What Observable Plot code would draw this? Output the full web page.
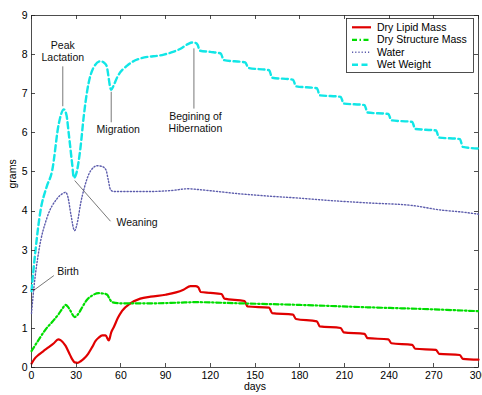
<!DOCTYPE html>
<html>
<head>
<meta charset="utf-8">
<script src="https://cdn.jsdelivr.net/npm/d3@7"></script>
<script src="https://cdn.jsdelivr.net/npm/@observablehq/plot@0.6"></script>
<style>
  html, body { margin: 0; padding: 0; background: #fff; }
  #wrap { position: relative; width: 482px; height: 395px; overflow: hidden; }
  #overlay { position: absolute; left: 0; top: 0; }
</style>
</head>
<body>
<div id="wrap"></div>
<script>
// ---- data: [day, grams] ----
const dryLipid = [[0,0.1],[2,0.22],[4.9,0.33],[8,0.42],[11.6,0.52],[15,0.62],[17.9,0.72],[19.5,0.7],[22.8,0.56],[26,0.31],[27.5,0.2],[29,0.13],[31,0.12],[33,0.16],[35,0.22],[38,0.35],[40.7,0.52],[43,0.68],[45,0.76],[47.5,0.82],[49.7,0.82],[51.9,0.69],[53.5,0.9],[55.2,1.03],[58,1.27],[60.8,1.45],[66,1.63],[73,1.76],[80,1.81],[90,1.86],[97,1.92],[102,1.99],[106.7,2.08],[110,2.08],[112,2.05],[113.5,1.93],[120,1.91],[127.5,1.88],[129.5,1.76],[143,1.7],[145,1.56],[159.5,1.53],[161.5,1.39],[175.5,1.35],[177.5,1.24],[191.5,1.18],[193.5,1.05],[207.5,1.01],[209.5,0.9],[223.5,0.86],[225.5,0.75],[239.5,0.72],[241.5,0.62],[255.5,0.58],[257.5,0.48],[271.5,0.45],[273.5,0.35],[287.5,0.32],[289.5,0.22],[300,0.2]];
const dryStructure = [[0,0.42],[5,0.72],[9.4,0.97],[14,1.17],[18.3,1.37],[21,1.52],[22.8,1.6],[24.5,1.55],[26,1.46],[29,1.29],[31,1.35],[34,1.54],[37,1.72],[40.7,1.84],[45,1.9],[48.5,1.89],[50.8,1.86],[52.5,1.75],[54.1,1.67],[60.8,1.64],[80,1.64],[100,1.66],[110,1.67],[140,1.64],[180,1.6],[225,1.54],[260,1.5],[300,1.44]];
const water = [[0,1.38],[1.5,2.0],[5,3.0],[10.5,3.84],[17,4.31],[21,4.45],[22.8,4.48],[24.5,4.35],[26.5,3.9],[28.9,3.5],[31,3.75],[33,4.2],[35.5,4.6],[38,4.9],[41.8,5.12],[44,5.16],[47.4,5.14],[50,5.05],[51.5,4.8],[53,4.55],[55,4.5],[60,4.5],[80,4.5],[95,4.53],[105,4.57],[112,4.55],[120,4.52],[140,4.44],[160,4.38],[180,4.33],[200,4.27],[225,4.21],[256,4.14],[274,4.03],[290,3.97],[300,3.92]];
const wetWeight = [[0,1.95],[2.7,3.0],[6,4.0],[10,4.6],[13.9,5.04],[18.3,6.23],[21.7,6.6],[23.5,6.45],[25,5.98],[27.3,5.2],[28.4,4.85],[30,4.95],[32.9,5.63],[35,6.4],[37.4,7.08],[41.8,7.68],[46.3,7.83],[48.5,7.8],[50.3,7.72],[53.5,7.1],[55,7.2],[57.5,7.42],[64.2,7.72],[73,7.9],[88.8,8.0],[95,8.07],[100,8.15],[105,8.27],[107.8,8.31],[110,8.3],[111.5,8.25],[113,8.1],[120,8.07],[127,8.03],[129,7.86],[143.5,7.8],[145.5,7.66],[159.5,7.6],[161.5,7.41],[175.5,7.36],[177.5,7.19],[191.5,7.14],[193.5,6.96],[207.5,6.92],[209.5,6.75],[223.5,6.71],[225.5,6.52],[239.5,6.48],[241.5,6.32],[255.5,6.28],[257.5,6.1],[271.5,6.06],[273.5,5.88],[287.5,5.84],[289.5,5.64],[300,5.6]];

const seriesNames = ["Dry Lipid Mass", "Dry Structure Mass", "Water", "Wet Weight"];
const xTicks = [0,30,60,90,120,150,180,210,240,270,300];
const yTicks = [0,1,2,3,4,5,6,7,8,9];

// annotations: text labels and leader lines (data coordinates)
const centeredNotes = [
  {x: 21, y: 8.1, text: "Peak\nLactation"},
  {x: 58.2, y: 6.1, text: "Migration"},
  {x: 110, y: 6.27, text: "Begining of\nHibernation"}
];
const leftNotes = [
  {x: 57, y: 3.7, text: "Weaning"},
  {x: 17.2, y: 2.46, text: "Birth"}
];
const annotationLines = [
  {x1: 21, y1: 7.7, x2: 21, y2: 6.68},
  {x1: 53.5, y1: 7.05, x2: 53.5, y2: 6.27},
  {x1: 109, y1: 8.16, x2: 109, y2: 6.62},
  {x1: 29, y1: 4.78, x2: 53, y2: 3.74},
  {x1: 15, y1: 2.35, x2: 1.4, y2: 1.97}
];

// styles
const styles = [
  {color: "#e00000", width: 2.2, dash: null},
  {color: "#00dd00", width: 2.2, dash: "5,2.5,1.5,2.5"},
  {color: "#5c5cac", width: 1.4, dash: "1.2,2"},
  {color: "#11e6e6", width: 2.4, dash: "6,3.5"}
];
const seriesData = [dryLipid, dryStructure, water, wetWeight];

const W = 482, H = 395, mL = 31, mR = 4, mT = 15, mB = 28, tick = 4;
const font = "'Liberation Sans', Arial, Helvetica, sans-serif";

const lineMarks = seriesData.map((data, i) => Plot.line(data, {
  x: d => d[0], y: d => d[1],
  stroke: styles[i].color, strokeWidth: styles[i].width,
  strokeDasharray: styles[i].dash, curve: "monotone-x"
}));

const chart = Plot.plot({
  width: W, height: H,
  marginLeft: mL, marginRight: mR, marginTop: mT, marginBottom: mB,
  style: {fontFamily: font, fontSize: "10.5px", color: "#000", background: "#fff"},
  x: {domain: [0, 300]},
  y: {domain: [0, 9]},
  marks: [
    Plot.frame({stroke: "#222", strokeWidth: 0.8}),
    Plot.axisX({ticks: xTicks, tickSize: 0, tickPadding: 4, label: null, fill: "#000"}),
    Plot.axisY({ticks: yTicks, tickSize: 0, tickPadding: 4, label: null, fill: "#000"}),
    Plot.text(["days"], {frameAnchor: "bottom", dy: 22, fill: "#000"}),
    Plot.text(["grams"], {frameAnchor: "left", dx: -19, dy: -3, rotate: -90, fill: "#000"}),
    ...lineMarks,
    Plot.link(annotationLines, {x1: "x1", y1: "y1", x2: "x2", y2: "y2", stroke: "#555", strokeWidth: 0.8}),
    Plot.text(centeredNotes, {x: "x", y: "y", text: "text", textAnchor: "middle", lineHeight: 1.15, fill: "#111"}),
    Plot.text(leftNotes, {x: "x", y: "y", text: "text", textAnchor: "start", fill: "#111"})
  ]
});
document.getElementById("wrap").appendChild(chart);

// inside ticks on all four sides, placed with the chart's own scales
const sx = chart.scale("x"), sy = chart.scale("y");
const x0 = sx.apply(0), x1 = sx.apply(300), y0 = sy.apply(0), y1 = sy.apply(9);
const svg = d3.select(chart);
const tg = svg.append("g").attr("stroke", "#222").attr("stroke-width", 0.8);
xTicks.forEach(v => {
  const px = Math.round(sx.apply(v)) + 0.5;
  tg.append("line").attr("x1", px).attr("x2", px).attr("y1", y0).attr("y2", y0 - tick);
  tg.append("line").attr("x1", px).attr("x2", px).attr("y1", y1).attr("y2", y1 + tick);
});
yTicks.forEach(v => {
  const py = Math.round(sy.apply(v)) + 0.5;
  tg.append("line").attr("y1", py).attr("y2", py).attr("x1", x0).attr("x2", x0 + tick);
  tg.append("line").attr("y1", py).attr("y2", py).attr("x1", x1).attr("x2", x1 - tick);
});

// legend overlay
const lg = d3.select("#wrap").append("svg")
  .attr("id", "overlay").attr("width", W).attr("height", H)
  .style("font-family", font).style("font-size", "10.5px");
lg.append("rect").attr("x", 346.5).attr("y", 18.5).attr("width", 127).attr("height", 54)
  .attr("fill", "#fff").attr("stroke", "#222").attr("stroke-width", 0.8);
seriesNames.forEach((name, i) => {
  const yy = 27.3 + i * 12.5;
  lg.append("line").attr("x1", 352).attr("x2", 371).attr("y1", yy).attr("y2", yy)
    .attr("stroke", styles[i].color).attr("stroke-width", styles[i].width)
    .attr("stroke-dasharray", styles[i].dash);
  lg.append("text").attr("x", 377).attr("y", yy).attr("dy", "0.35em").attr("fill", "#000").text(name);
});
</script>
</body>
</html>
